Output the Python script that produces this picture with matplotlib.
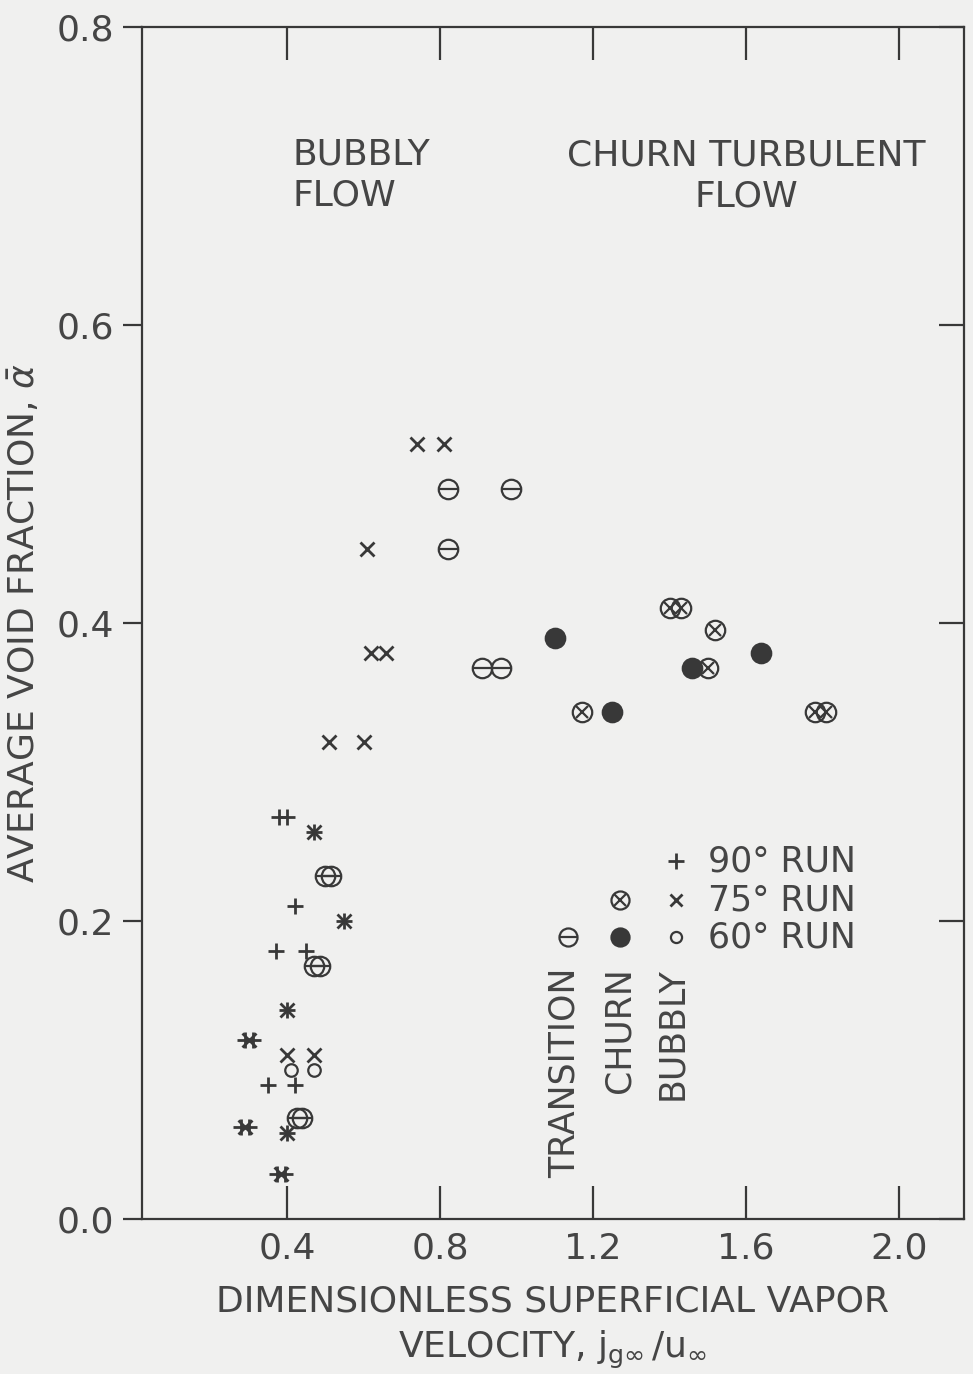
import matplotlib
matplotlib.use("Agg")
import matplotlib.pyplot as plt

# Bubbly flow, 90 deg run (+)
RUN90_X = [0.38, 0.40, 0.47, 0.42, 0.37, 0.45, 0.55, 0.40, 0.29, 0.31,
           0.35, 0.42, 0.28, 0.30, 0.40, 0.375, 0.395]
RUN90_Y = [0.27, 0.27, 0.26, 0.21, 0.18, 0.18, 0.20, 0.14, 0.12, 0.12,
           0.09, 0.09, 0.062, 0.062, 0.058, 0.03, 0.03]

# Bubbly flow, 75 deg run (x)
RUN75_X = [0.74, 0.81, 0.61, 0.62, 0.66, 0.51, 0.60, 0.47, 0.55, 0.40,
           0.40, 0.47, 0.30, 0.29, 0.40, 0.385]
RUN75_Y = [0.52, 0.52, 0.45, 0.38, 0.38, 0.32, 0.32, 0.26, 0.20, 0.14,
           0.11, 0.11, 0.12, 0.062, 0.058, 0.03]

# Bubbly flow, 60 deg run (small open circle)
RUN60_X = [0.41, 0.47]
RUN60_Y = [0.10, 0.10]

# Transition (circle with bar)
TRANS_X = [0.82, 0.985, 0.82, 0.91, 0.96, 0.50, 0.515, 0.47, 0.485, 0.425, 0.44]
TRANS_Y = [0.49, 0.49, 0.45, 0.37, 0.37, 0.23, 0.23, 0.17, 0.17, 0.068, 0.068]

# Churn, 75 deg run (circle with cross)
CHURN75_X = [1.40, 1.43, 1.52, 1.50, 1.17, 1.78, 1.81]
CHURN75_Y = [0.41, 0.41, 0.395, 0.37, 0.34, 0.34, 0.34]

# Churn, 60 deg run (filled circle)
CHURN60_X = [1.10, 1.25, 1.46, 1.64]
CHURN60_Y = [0.39, 0.34, 0.37, 0.38]

X_TICKS = [0.4, 0.8, 1.2, 1.6, 2.0]
Y_TICKS = [0.0, 0.2, 0.4, 0.6, 0.8]
RUN_LABELS = ["90\u00b0 RUN", "75\u00b0 RUN", "60\u00b0 RUN"]
REGIME_LABELS = ["TRANSITION", "CHURN", "BUBBLY"]

INK = "#383838"
TEXT_INK = "#454545"
PAPER = "#f0f0ef"
FS = 26

plt.rcParams["font.family"] = ["DejaVu Sans"]

fig = plt.figure(figsize=(9.73, 13.74), dpi=100, facecolor=PAPER)
ax = fig.add_axes([0.1456, 0.1128, 0.8452, 0.8675], facecolor=PAPER)


def ring(x, y, ms, inner=None, inner_ms=None, filled=False):
    ax.plot(x, y, "o", ms=ms, mfc=INK if filled else "none", mec=INK,
            mew=1.6, ls="none", zorder=3)
    if inner:
        ax.plot(x, y, inner, ms=inner_ms, mec=INK, mew=1.6, ls="none",
                zorder=3)


# data
ax.plot(RUN90_X, RUN90_Y, "+", ms=12, mew=2.0, color=INK, ls="none", zorder=3)
ax.plot(RUN75_X, RUN75_Y, "x", ms=10, mew=2.0, color=INK, ls="none", zorder=3)
ring(RUN60_X, RUN60_Y, 9)
ring(TRANS_X, TRANS_Y, 14, "_", 14)
ring(CHURN75_X, CHURN75_Y, 14, "x", 9)
ring(CHURN60_X, CHURN60_Y, 14, filled=True)

# key: columns transition / churn / bubbly, rows 90 / 75 / 60 deg runs
row_y = [0.240, 0.214, 0.189]
ax.plot([1.417], [row_y[0]], "+", ms=12, mew=2.0, color=INK)
ax.plot([1.417], [row_y[1]], "x", ms=9, mew=2.0, color=INK)
ring([1.417], [row_y[2]], 8)
ring([1.27], [row_y[1]], 13, "x", 8)
ring([1.27], [row_y[2]], 13, filled=True)
ring([1.135], [row_y[2]], 13, "_", 13)
for lab, yy in zip(RUN_LABELS, row_y):
    ax.text(1.50, yy, lab, fontsize=FS - 1, color=TEXT_INK, ha="left",
            va="center")
for lab, xx in zip(REGIME_LABELS, [1.127, 1.27, 1.407]):
    ax.text(xx, 0.169, lab, fontsize=FS - 1, color=TEXT_INK, rotation=90,
            ha="center", va="top")

ax.text(0.415, 0.726, "BUBBLY\nFLOW", fontsize=FS, color=TEXT_INK,
        ha="left", va="top", linespacing=1.25)
ax.text(1.60, 0.725, "CHURN TURBULENT\nFLOW", fontsize=FS, color=TEXT_INK,
        ha="center", va="top", linespacing=1.25, multialignment="center")

ax.set_xlim(0.02, 2.17)
ax.set_ylim(0.0, 0.8)
ax.set_xticks(X_TICKS)
ax.set_xticklabels([f"{v:.1f}" for v in X_TICKS])
ax.set_yticks(Y_TICKS)
ax.set_yticklabels([f"{v:.1f}" for v in Y_TICKS])
ax.tick_params(axis="x", direction="in", top=True, length=24, width=1.6,
               color=INK, labelcolor=TEXT_INK, labelsize=FS, pad=9)
ax.tick_params(axis="y", direction="out", length=14, width=1.6,
               color=INK, labelcolor=TEXT_INK, labelsize=FS, pad=6)
ax.tick_params(axis="y", which="major", right=True)
for t in ax.yaxis.get_ticklines()[1::2]:
    t.set_marker(0)  # right-hand ticks point inward
    t.set_markersize(18)
for s in ax.spines.values():
    s.set_color(INK)
    s.set_linewidth(1.6)

ax.set_xlabel("DIMENSIONLESS SUPERFICIAL VAPOR\n"
              r"VELOCITY, $\mathrm{j_{g\infty}\,/u_{\infty}}$",
              fontsize=FS, color=TEXT_INK, linespacing=1.35, labelpad=14)
ax.set_ylabel(r"AVERAGE VOID FRACTION, $\bar{\alpha}$", fontsize=FS,
              color=TEXT_INK, labelpad=10)

fig.savefig("out.png", dpi=100, facecolor=PAPER)
